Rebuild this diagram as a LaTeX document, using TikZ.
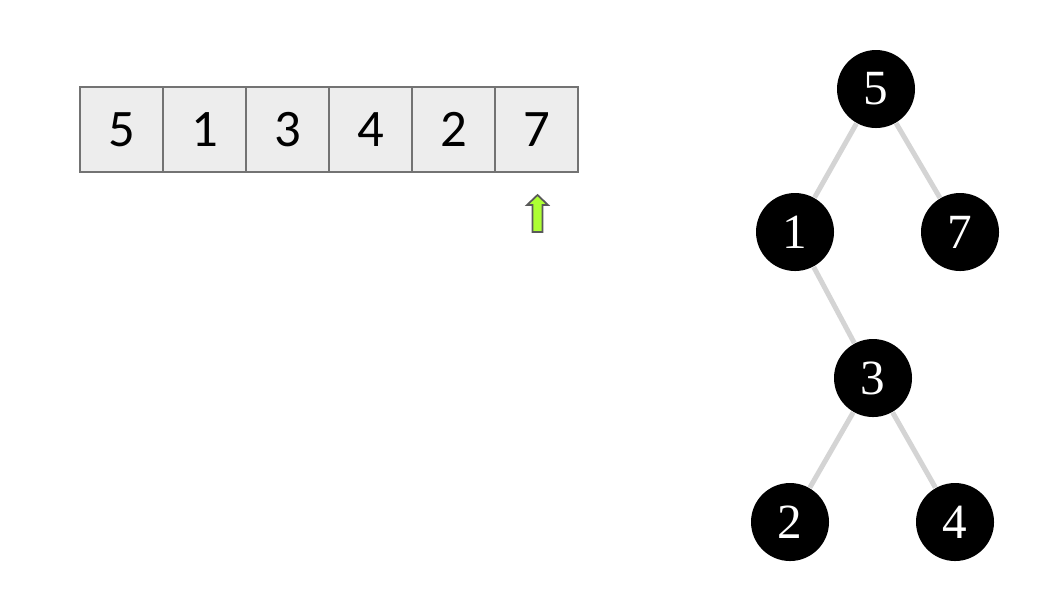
\documentclass[tikz,border=0pt]{standalone}
\usepackage{fontspec}
\newfontfamily\cellfont{Carlito}
\newfontfamily\vertfont{Liberation Serif}
\usetikzlibrary{positioning}
\begin{document}
\begin{tikzpicture}
		[	cell/.style={rectangle,draw=black!55,fill=black!7,minimum width=0.83cm,minimum height=0.85cm,inner sep=0pt,font=\cellfont\fontsize{15}{15}\selectfont},
		vert/.style={circle,fill=black,text=white,minimum size=0.78cm,inner sep=0pt,font=\vertfont\fontsize{14}{14}\selectfont},
		link/.style={draw=black!17,line width=0.05cm},
		pointer/.style={draw=black!65,fill=green!40!yellow!80!white,line width=0.5pt,line join=miter},
		]
		\useasboundingbox (0,0) rectangle (10.46,-5.99);
		% the array
		\node[cell,name=c1] at (1.215,-1.295){5};
		\node[cell,name=c2,right=-0.4pt of c1]{1};
		\node[cell,name=c3,right=-0.4pt of c2]{3};
		\node[cell,name=c4,right=-0.4pt of c3]{4};
		\node[cell,name=c5,right=-0.4pt of c4]{2};
		\node[cell,name=c6,right=-0.4pt of c5]{7};

		% pointer under the last cell
		\coordinate (tip) at (5.375,-1.95);
		\draw[pointer] (tip) -- ++(0.105,-0.10) -- ++(-0.055,0) -- ++(0,-0.27) -- ++(-0.10,0) -- ++(0,0.27) -- ++(-0.055,0) -- cycle;

		% the tree
		\node[vert,name=t5] at (8.76,-0.89){5};
		\node[vert,name=t1] at (7.95,-2.32){1};
		\node[vert,name=t7] at (9.60,-2.32){7};
		\node[vert,name=t3] at (8.73,-3.78){3};
		\node[vert,name=t2] at (7.90,-5.22){2};
		\node[vert,name=t4] at (9.55,-5.22){4};

		\draw[link] (t5) -- (t1);
		\draw[link] (t5) -- (t7);
		\draw[link] (t1) -- (t3);
		\draw[link] (t3) -- (t2);
		\draw[link] (t3) -- (t4);
	\end{tikzpicture}
\end{document}
